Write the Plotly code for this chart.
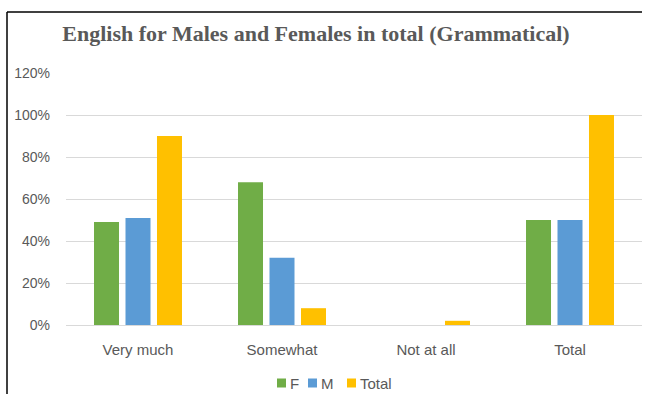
import plotly.graph_objects as go

categories = ["Very much", "Somewhat", "Not at all", "Total"]
female = [0.49, 0.68, 0.0, 0.50]
male = [0.51, 0.32, 0.0, 0.50]
total = [0.90, 0.08, 0.02, 1.00]
tick_vals = [0, 0.2, 0.4, 0.6, 0.8, 1.0, 1.2]
tick_text = ["0%", "20%", "40%", "60%", "80%", "100%", "120%"]
series = [("F", female, "#70AD47"), ("M", male, "#5B9BD5"), ("Total", total, "#FFC000")]

W, H = 647, 394
L, R, T, B = 66, 5, 73, 69
PW, PH = W - L - R, H - T - B


def px(x):
    return (x - L) / PW


def py(y):
    return (H - B - y) / PH


sans = "Liberation Sans, Arial, sans-serif"
grey = "#595959"

fig = go.Figure()
for name, vals, color in series:
    fig.add_trace(go.Bar(name=name, x=categories, y=vals,
                         marker=dict(color=color, line=dict(width=0)), showlegend=False))

# legend drawn as small swatches with labels beside them
shapes = []
annotations = []
legend_x = [277, 308, 347]
for (name, _, color), x0 in zip(series, legend_x):
    shapes.append(dict(type="rect", xref="paper", yref="paper",
                       x0=px(x0), x1=px(x0 + 9), y0=py(387.5), y1=py(378.5),
                       fillcolor=color, line=dict(width=0)))
    annotations.append(dict(text=name, xref="paper", yref="paper", x=px(x0 + 11), y=py(383),
                            xanchor="left", yanchor="middle", showarrow=False,
                            font=dict(family=sans, size=15, color=grey)))

# chart frame: left and top edges
shapes += [
    dict(type="line", xref="paper", yref="paper",
         x0=px(7), x1=px(7), y0=py(12), y1=py(400), line=dict(color="black", width=1.5)),
    dict(type="line", xref="paper", yref="paper",
         x0=px(7), x1=px(642), y0=py(12), y1=py(12), line=dict(color="black", width=1.5)),
]

fig.update_layout(
    width=W, height=H,
    margin=dict(l=L, r=R, t=T, b=B),
    paper_bgcolor="white", plot_bgcolor="white",
    barmode="group", bargap=0.344, bargroupgap=0.206,
    title=dict(
        text="<b>English for Males and Females in total (Grammatical)</b>",
        x=316 / W, xanchor="center", y=1 - 33 / H, yanchor="middle",
        font=dict(family="Liberation Serif, Times New Roman, serif", size=22, color=grey),
    ),
    xaxis=dict(showgrid=False, showline=False, ticks="", ticklabelstandoff=14,
               tickfont=dict(family=sans, size=15, color=grey)),
    yaxis=dict(
        range=[0, 1.2], tickvals=tick_vals, ticktext=tick_text,
        showgrid=True, gridcolor="#D9D9D9", gridwidth=1,
        zeroline=True, zerolinecolor="#D9D9D9", zerolinewidth=1,
        tickfont=dict(family=sans, size=14, color=grey), ticks="", ticklabelstandoff=15,
    ),
    showlegend=False,
    shapes=shapes,
    annotations=annotations,
)

fig.write_html("out.html")
